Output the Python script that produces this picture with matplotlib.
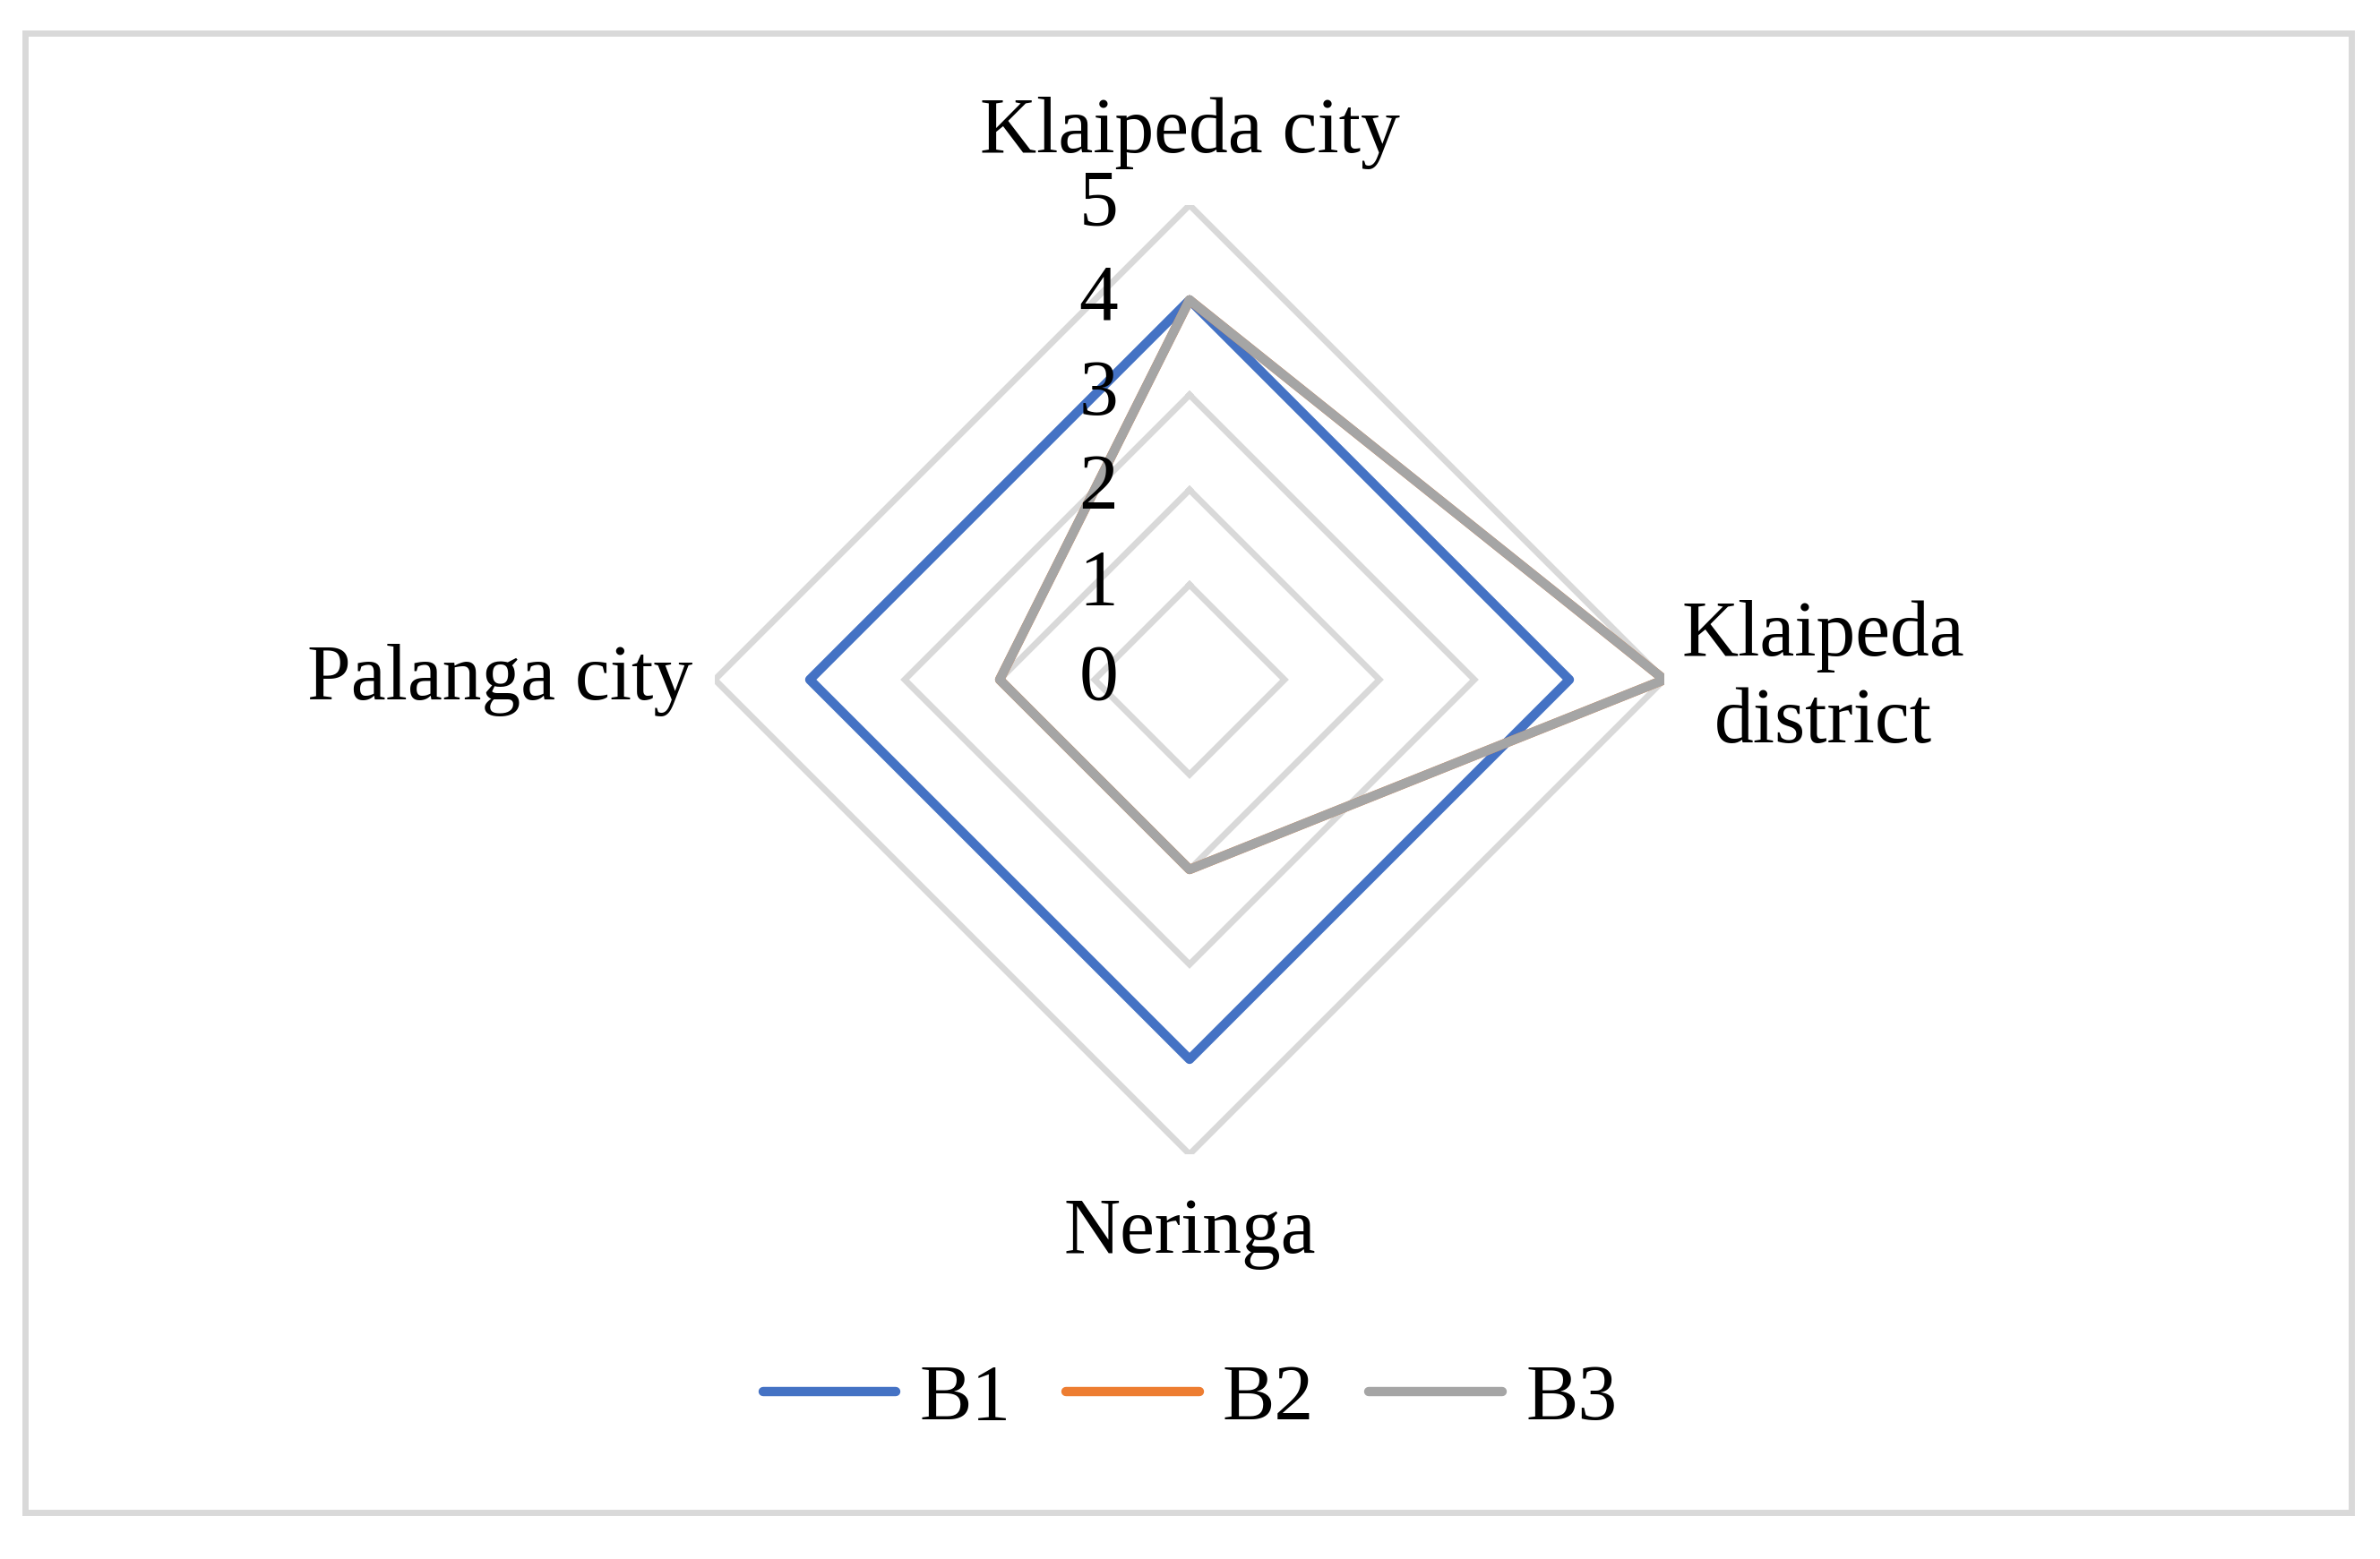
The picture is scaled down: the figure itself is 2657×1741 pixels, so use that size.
import numpy as np
import matplotlib
matplotlib.use("Agg")
import matplotlib.pyplot as plt
from matplotlib.patches import Rectangle
from matplotlib.transforms import offset_copy

# data
categories = ["Klaipeda city", "Klaipeda\ndistrict", "Neringa", "Palanga city"]
b1 = [4, 4, 4, 4]
b2 = [4, 5, 2, 2]   # hidden under B3 in the reference
b3 = [4, 5, 2, 2]
series_names = ["B1", "B2", "B3"]
colors = ["#4472C4", "#ED7D31", "#A5A5A5"]
rings = [0, 1, 2, 3, 4, 5]

plt.rcParams['font.family'] = ['Liberation Serif', 'DejaVu Serif']
FS = 63

W, H = 2657, 1741
fig = plt.figure(figsize=(W / 100, H / 100), dpi=100)

# outer light-grey frame
fig.patches.append(Rectangle((28 / W, 52 / H), (2625 - 28) / W, (1704 - 52) / H,
                             transform=fig.transFigure, fill=False,
                             edgecolor="#D9D9D9", linewidth=5))

cx, cy, R = 1328, 759, 530
ax = fig.add_axes([(cx - R) / W, (H - cy - R) / H, 2 * R / W, 2 * R / H],
                  projection='polar')
ax.set_theta_zero_location('N')
ax.set_theta_direction(-1)
ax.set_ylim(0, 5)
ax.grid(False)
ax.spines['polar'].set_visible(False)
ax.set_xticks([])
ax.set_yticks([])
ax.patch.set_alpha(0)

n = len(categories)
angles = np.arange(n) * 2 * np.pi / n
closed = np.append(angles, angles[0])

# polygon grid
for r in rings[1:]:
    ax.plot(closed, [r] * (n + 1), color="#D9D9D9", lw=5, zorder=1,
            solid_joinstyle='miter')

for vals, name, c in zip([b1, b2, b3], series_names, colors):
    ax.plot(closed, list(vals) + [vals[0]], color=c, lw=7.5, label=name,
            solid_joinstyle='round', solid_capstyle='round', zorder=3)

# radial value labels along the top axis
lab_tr = offset_copy(ax.transData, fig=fig, x=-80, y=0, units='dots')
for r in rings:
    ax.text(0, r, str(r), transform=lab_tr, ha='right', va='center',
            fontsize=FS, zorder=5)

# category labels
offsets = [(0, 40, 'center', 'bottom'), (20, 0, 'left', 'center'),
           (0, -48, 'center', 'top'), (-25, 0, 'right', 'center')]
for ang, name, (dx, dy, ha, va) in zip(angles, categories, offsets):
    tr = offset_copy(ax.transData, fig=fig, x=dx, y=dy, units='dots')
    ax.text(ang, 5, name, transform=tr, ha=ha, va=va, fontsize=FS,
            multialignment='center', linespacing=1.25)

fig.legend(loc='center', bbox_to_anchor=(0.5, 0.102), ncol=3, frameon=False,
           fontsize=FS, handlelength=1.7, handletextpad=0.3, columnspacing=0.7)

fig.savefig("out.png", dpi=100, facecolor="white")
